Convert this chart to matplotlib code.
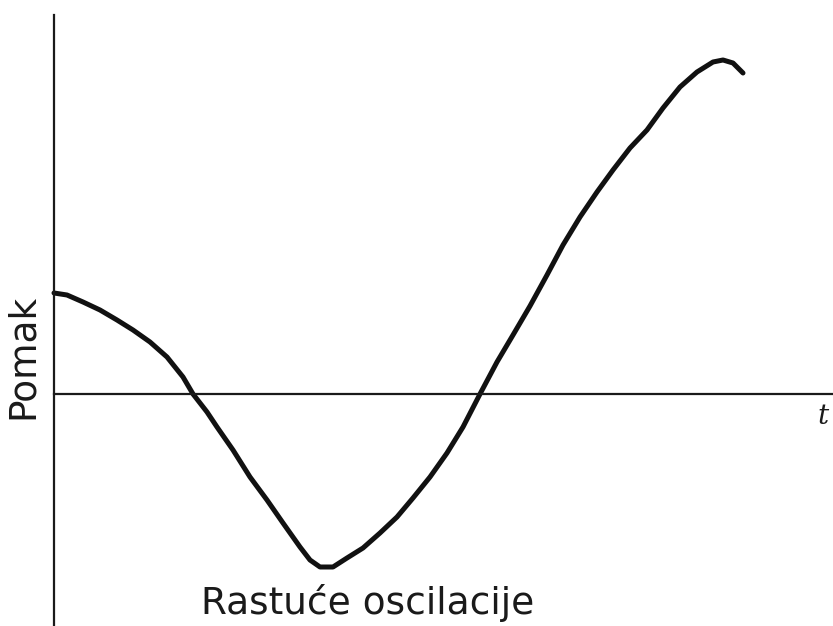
import matplotlib.pyplot as plt

# Rastuce oscilacije - tocke ocitane sa slike
vrijeme = [0.0, 1.3, 2.9, 4.6, 6.3, 7.9, 9.6, 11.3, 12.9, 13.9, 15.3,
           16.3, 17.9, 19.6, 21.3, 22.9, 24.6, 25.6, 26.6, 27.9, 29.3,
           30.9, 32.6, 34.3, 35.9, 37.6, 39.3, 40.9, 42.6, 44.3, 45.9,
           47.6, 49.3, 50.9, 52.6, 54.3, 55.9, 57.6, 59.3, 60.9, 62.6,
           64.3, 65.9, 66.9, 67.9, 68.9]
pomak = [10.1, 9.9, 9.2, 8.4, 7.4, 6.4, 5.2, 3.7, 1.7, 0.0, -1.8,
         -3.3, -5.6, -8.3, -10.6, -12.9, -15.3, -16.6, -17.3, -17.3, -16.4,
         -15.4, -13.9, -12.3, -10.4, -8.3, -5.9, -3.3, 0.0, 3.2, 5.9,
         8.8, 11.9, 14.9, 17.7, 20.2, 22.4, 24.6, 26.4, 28.6, 30.7,
         32.2, 33.2, 33.4, 33.1, 32.1]

fig = plt.figure(figsize=(8.33, 6.26), dpi=100)
ax = fig.add_axes([54 / 833, 0.0, 779 / 833, 611 / 626])

ax.plot(vrijeme, pomak, color="#111111", linewidth=3.6,
        solid_joinstyle="round", solid_capstyle="round", clip_on=False)

ax.set_xlim(0, 77.9)
ax.set_ylim(-23.2, 37.9)

ax.spines["top"].set_visible(False)
ax.spines["right"].set_visible(False)
ax.spines["bottom"].set_position(("data", 0))
ax.spines["left"].set_linewidth(1.6)
ax.spines["bottom"].set_linewidth(1.6)
ax.spines["left"].set_color("#1a1a1a")
ax.spines["bottom"].set_color("#1a1a1a")
ax.set_xticks([])
ax.set_yticks([])
ax.patch.set_visible(False)

fig.text(23 / 833, 1 - 356 / 626, "Pomak", rotation=90, fontsize=27,
         ha="center", va="center", color="#1a1a1a")
fig.text(823 / 833, 1 - 417 / 626, "t", fontsize=20, family="DejaVu Serif",
         style="italic", ha="center", va="center", color="#1a1a1a")
fig.text(368 / 833, 1 - 603 / 626, "Rastuće oscilacije", fontsize=27,
         ha="center", va="center", color="#1a1a1a")

fig.savefig("out.png", dpi=100)
